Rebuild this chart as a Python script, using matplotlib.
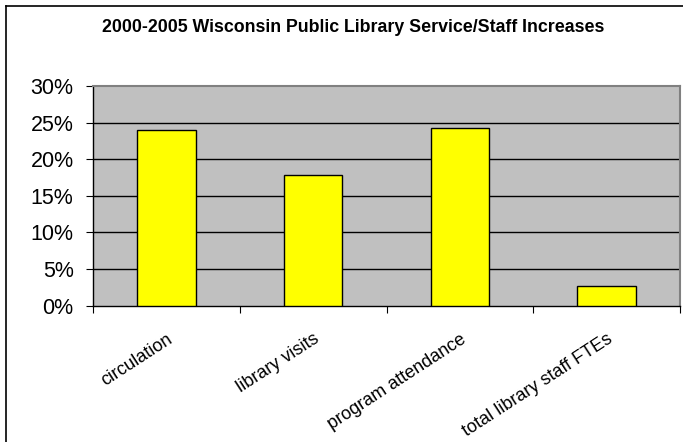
import matplotlib
matplotlib.use("Agg")
import matplotlib.pyplot as plt
from matplotlib.lines import Line2D
import numpy as np

categories = ["circulation", "library visits", "program attendance", "total library staff FTEs"]
values = [24.0, 17.9, 24.2, 2.7]
yticks = [0, 5, 10, 15, 20, 25, 30]
ytick_labels = ["0%", "5%", "10%", "15%", "20%", "25%", "30%"]
title = "2000-2005 Wisconsin Public Library Service/Staff Increases"

plt.rcParams['font.family'] = ['Liberation Sans', 'DejaVu Sans']

W, H = 683, 442
fig = plt.figure(figsize=(W/100, H/100), dpi=100)
ax = fig.add_axes([93/W, 1-305.5/H, (680-93)/W, (305.5-86)/H])
ax.set_facecolor('#C0C0C0')

x = np.arange(len(categories))
ax.bar(x, values, width=0.4, color='#FFFF00', edgecolor='black', linewidth=1.0, zorder=3)
ax.set_xlim(-0.5, len(categories)-0.5)
ax.set_ylim(0, 30)
ax.set_yticks(yticks)
ax.set_yticklabels(ytick_labels, fontsize=15.5)
for yv in yticks[1:-1]:
    ax.axhline(yv, color='black', linewidth=1.0, zorder=2)

ax.set_xticks(np.arange(len(categories)+1)-0.5)
ax.set_xticklabels([])
ax.tick_params(axis='x', direction='out', length=5, width=0.8, color='black')
ax.tick_params(axis='y', direction='out', length=5, width=0.8, color='black', pad=9)

for c, lab in zip(x, categories):
    ax.annotate(lab, xy=(c, 0), xycoords=('data', 'axes fraction'),
                xytext=(0, -18), textcoords='offset points',
                rotation=33, rotation_mode='anchor', ha='right', va='top', fontsize=13)

for s in ['left', 'bottom']:
    ax.spines[s].set_color('black')
    ax.spines[s].set_linewidth(1.0)
for s in ['top', 'right']:
    ax.spines[s].set_color('#808080')
    ax.spines[s].set_linewidth(1.5)

fig.text(353/W, 1-28/H, title, ha='center', va='center', fontsize=12.8, fontweight='bold')

# outer chart border (left and top visible)
fig.add_artist(Line2D([6/W, 6/W], [0, 1-6/H], color='black', linewidth=1.2, transform=fig.transFigure))
fig.add_artist(Line2D([6/W, 1], [1-6/H, 1-6/H], color='black', linewidth=1.2, transform=fig.transFigure))

fig.savefig('out.png', dpi=100)
